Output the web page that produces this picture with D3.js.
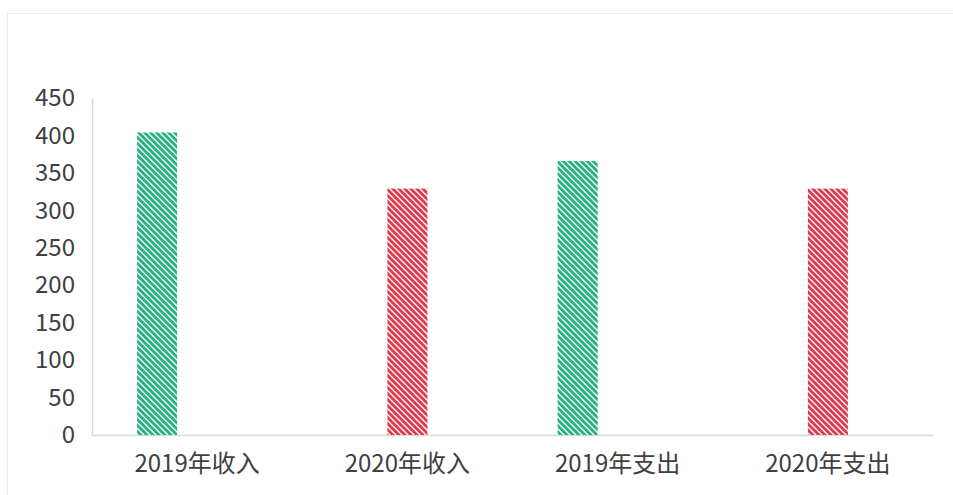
<!DOCTYPE html>
<html>
<head>
<meta charset="utf-8">
<script src="https://cdn.jsdelivr.net/npm/d3@7"></script>
<style>
  body { margin: 0; background: #fff; }
  svg text { font-family: "Noto Sans CJK SC", "Noto Sans", sans-serif; fill: #404040; }
</style>
</head>
<body>
<div id="vis"></div>
<script>
// chart data
const categories = ['2019年收入', '2020年收入', '2019年支出', '2020年支出']
const series2019 = [404, null, 366, null]   // green
const series2020 = [null, 329, null, 329]   // red
const slots = ['s2019', 's2020', 'blank']   // third slot is empty in the original
const yTicks = [0, 50, 100, 150, 200, 250, 300, 350, 400, 450]

const W = 953, H = 495
const margin = { top: 98, right: 20, bottom: 60, left: 92 }
const width = 933 - margin.left
const height = 435 - margin.top

const svg = d3.select('#vis')
    .append('svg')
    .attr('width', W)
    .attr('height', H)

// faint frame around the chart area
svg.append('rect')
    .attr('x', 7.5).attr('y', 13.5)
    .attr('width', W).attr('height', H)
    .attr('fill', 'none')
    .attr('stroke', '#ececec')

// hatch patterns (wide downward diagonal)
const defs = svg.append('defs')
function hatch(id, color) {
    const p = defs.append('pattern')
        .attr('id', id)
        .attr('patternUnits', 'userSpaceOnUse')
        .attr('width', 6).attr('height', 6)
    p.append('rect').attr('width', 6).attr('height', 6).attr('fill', '#fff')
    p.append('path')
        .attr('d', 'M-1,-1L7,7M-4,2L2,8M4,-2L10,4')
        .attr('stroke', color)
        .attr('stroke-width', 2.9)
}
hatch('hGreen', '#27b084')
hatch('hRed', '#de3a4f')

const g = svg.append('g')
    .attr('transform', `translate(${margin.left},${margin.top})`)

const xScale = d3.scaleBand()
    .domain(categories)
    .range([0, width])

const xSub = d3.scaleBand()
    .domain(slots)
    .range([0, 120])

const yScale = d3.scaleLinear()
    .domain([0, 450])
    .range([height, 0])

// y axis
const yAxis = d3.axisLeft(yScale)
    .tickValues(yTicks)
    .tickSize(0)
    .tickPadding(17)
g.append('g')
    .attr('class', 'axis')
    .call(yAxis)
    .call(a => a.select('.domain').attr('stroke', '#d9d9d9').attr('stroke-width', 1.5))
    .call(a => a.selectAll('text').style('font-size', '24px').attr('fill', '#404040'))

// x axis
const xAxis = d3.axisBottom(xScale).tickSize(0).tickPadding(20)
g.append('g')
    .attr('class', 'axis')
    .attr('transform', `translate(0,${height})`)
    .call(xAxis)
    .call(a => a.select('.domain').attr('stroke', '#d9d9d9').attr('stroke-width', 1.5))
    .call(a => a.selectAll('text').style('font-size', '24px').attr('fill', '#404040'))

// bars
const barData = []
categories.forEach((c, i) => {
    if (series2019[i] != null) barData.push({ cat: c, slot: 's2019', value: series2019[i], fill: 'url(#hGreen)' })
    if (series2020[i] != null) barData.push({ cat: c, slot: 's2020', value: series2020[i], fill: 'url(#hRed)' })
})

g.selectAll('.bar')
    .data(barData)
    .join('rect')
    .attr('class', 'bar')
    .attr('x', d => xScale(d.cat) + xScale.bandwidth() / 2 - 60 + xSub(d.slot))
    .attr('y', d => yScale(d.value))
    .attr('width', xSub.bandwidth())
    .attr('height', d => height - yScale(d.value))
    .attr('fill', d => d.fill)
</script>
</body>
</html>
